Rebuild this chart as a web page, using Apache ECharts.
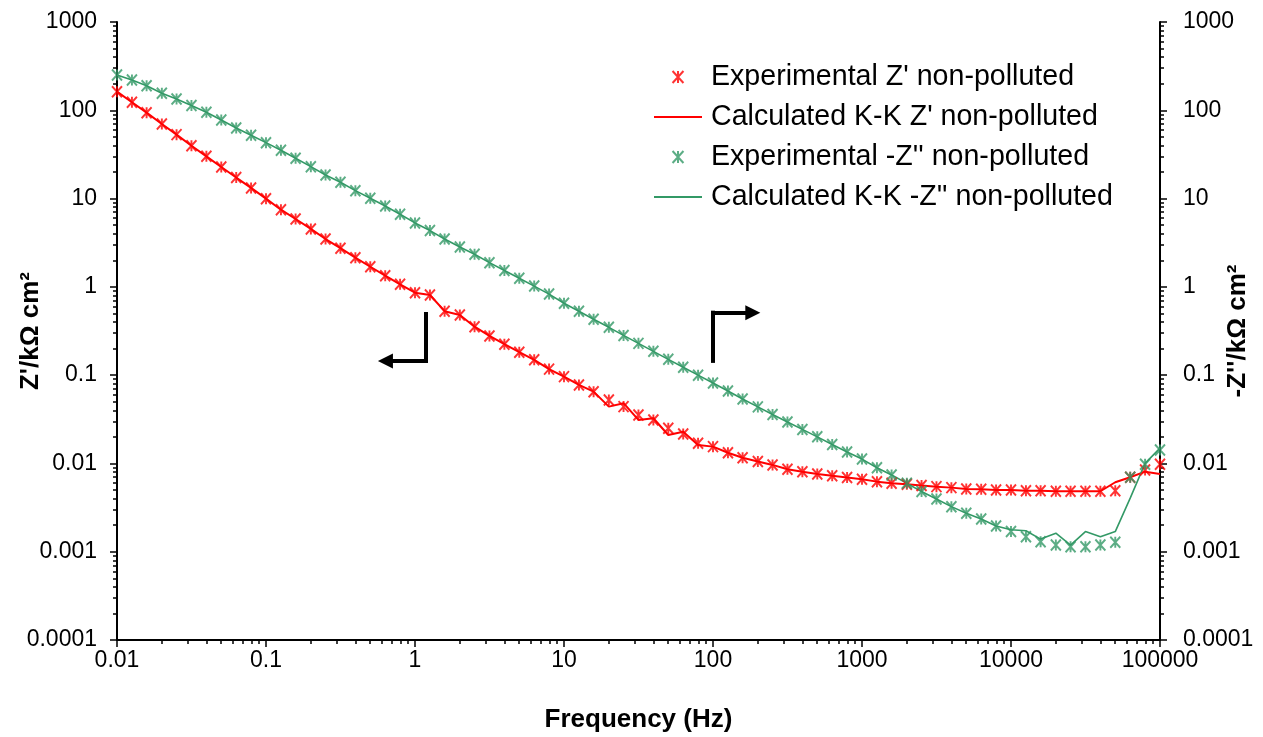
<!DOCTYPE html>
<html><head><meta charset="utf-8">
<script src="https://cdn.jsdelivr.net/npm/echarts@6/dist/echarts.min.js"></script>
<style>html,body{margin:0;padding:0;background:#fff}#c{width:1263px;height:737px}</style>
</head><body><div id="c"></div>
<script>
// ---- data ----
const freq = [
  0.01, 0.0126, 0.0158, 0.02, 0.0251, 0.0316, 0.0398, 0.0501, 0.0631, 0.0794,
  0.1, 0.126, 0.158, 0.2, 0.251, 0.316, 0.398, 0.501, 0.631, 0.794,
  1, 1.26, 1.58, 2, 2.51, 3.16, 3.98, 5.01, 6.31, 7.94,
  10, 12.6, 15.8, 20, 25.1, 31.6, 39.8, 50.1, 63.1, 79.4,
  100, 126, 158, 200, 251, 316, 398, 501, 631, 794,
  1000, 1260, 1580, 2000, 2510, 3160, 3980, 5010, 6310, 7940,
  10000, 12600, 15800, 20000, 25100, 31600, 39800, 50100, 63100, 79400,
  100000
];
const zReExp = [
  162.6, 123.3, 94.0, 70.0, 53.0, 39.7, 30.1, 22.8, 17.3, 13.2,
  9.98, 7.48, 5.87, 4.53, 3.48, 2.74, 2.14, 1.69, 1.34, 1.07,
  0.859, 0.809, 0.53, 0.481, 0.354, 0.278, 0.224, 0.182, 0.149, 0.117,
  0.0962, 0.0774, 0.0650, 0.0524, 0.0440, 0.0354, 0.0311, 0.0251, 0.0216, 0.0169,
  0.0155, 0.0132, 0.0116, 0.0105, 0.00962, 0.00859, 0.00804, 0.00759, 0.00724, 0.00692,
  0.00662, 0.00622, 0.00597, 0.00581, 0.00561, 0.00546, 0.00532, 0.00514, 0.00511, 0.00501,
  0.00501, 0.00489, 0.00489, 0.00484, 0.00484, 0.00484, 0.00484, 0.00489, 0.00698, 0.00843,
  0.00980
];
const zReCalc = [
  162.6, 123.3, 94.0, 70.0, 53.0, 39.7, 30.1, 22.8, 17.3, 13.2,
  9.98, 7.48, 5.87, 4.53, 3.48, 2.74, 2.14, 1.69, 1.34, 1.07,
  0.859, 0.809, 0.53, 0.481, 0.354, 0.278, 0.224, 0.182, 0.149, 0.117,
  0.0962, 0.0774, 0.0650, 0.0440, 0.0481, 0.0311, 0.0325, 0.0210, 0.0229, 0.0162,
  0.0155, 0.0132, 0.0116, 0.0105, 0.00962, 0.00859, 0.00804, 0.00759, 0.00724, 0.00692,
  0.00662, 0.00622, 0.00597, 0.00581, 0.00561, 0.00546, 0.00532, 0.00514, 0.00511, 0.00501,
  0.00501, 0.00489, 0.00489, 0.00484, 0.00484, 0.00484, 0.00484, 0.00612, 0.00698, 0.00807,
  0.00760
];
const zImExp = [
  251, 220, 190, 156, 134, 113, 94.8, 77.6, 63.1, 52.1,
  43.0, 35.2, 28.6, 23.0, 18.5, 15.3, 12.3, 10.1, 8.24, 6.64,
  5.30, 4.34, 3.49, 2.83, 2.34, 1.88, 1.53, 1.25, 1.02, 0.828,
  0.653, 0.530, 0.430, 0.348, 0.282, 0.229, 0.186, 0.151, 0.123, 0.100,
  0.0813, 0.0661, 0.0537, 0.0437, 0.0359, 0.0295, 0.0243, 0.0200, 0.0164, 0.0135,
  0.0112, 0.00895, 0.00741, 0.00597, 0.00480, 0.00396, 0.00324, 0.00273, 0.00235, 0.00196,
  0.00169, 0.00148, 0.00130, 0.00119, 0.00114, 0.00114, 0.00119, 0.00128, 0.00698, 0.00980,
  0.0142
];
const zImCalc = [
  251, 220, 190, 156, 134, 113, 94.8, 77.6, 63.1, 52.1,
  43.0, 35.2, 28.6, 23.0, 18.5, 15.3, 12.3, 10.1, 8.24, 6.64,
  5.30, 4.34, 3.49, 2.83, 2.34, 1.88, 1.53, 1.25, 1.02, 0.828,
  0.653, 0.530, 0.430, 0.348, 0.282, 0.229, 0.186, 0.151, 0.123, 0.100,
  0.0813, 0.0661, 0.0537, 0.0437, 0.0359, 0.0295, 0.0243, 0.0200, 0.0164, 0.0135,
  0.0112, 0.00895, 0.00741, 0.00597, 0.00480, 0.00396, 0.00324, 0.00273, 0.00235, 0.00196,
  0.00177, 0.00173, 0.00139, 0.00162, 0.00119, 0.00169, 0.00148, 0.00169, 0.00404, 0.0100,
  0.0149
];
const seriesNames = [
  "Experimental Z' non-polluted",
  "Calculated K-K Z' non-polluted",
  "Experimental -Z'' non-polluted",
  "Calculated K-K -Z'' non-polluted"
];
const xTickValues = [0.01, 0.1, 1, 10, 100, 1000, 10000, 100000];
const xTickLabels = ['0.01', '0.1', '1', '10', '100', '1000', '10000', '100000'];
const yTickValues = [0.0001, 0.001, 0.01, 0.1, 1, 10, 100, 1000];
const yTickLabels = ['0.0001', '0.001', '0.01', '0.1', '1', '10', '100', '1000'];
// annotation arrows (data coordinates: [frequency, impedance])
const arrowLeftStem = [[1.185, 0.493], [1.185, 0.145]];
const arrowLeftHead = [[1.185, 0.145], [0.633, 0.145]];
const arrowRightStem = [[100, 0.145], [100, 0.510]];
const arrowRightHead = [[100, 0.510], [185, 0.510]];

// ---- helpers ----
function minorTicks(majors) {
  const out = [];
  for (let i = 0; i < majors.length - 1; i++) {
    for (let k = 2; k <= 9; k++) out.push(+(majors[i] * k).toPrecision(4));
  }
  return out;
}
function labelFor(values, labels) {
  return function (v) {
    for (let i = 0; i < values.length; i++) {
      if (Math.abs(Math.log10(values[i]) - Math.log10(v)) < 1e-6) return labels[i];
    }
    return '';
  };
}
const FONT = "'Liberation Sans', Arial, sans-serif";
const RED = '#ff0000';
const GREEN = '#339966';
const STAR = 'path://M0,0 L10,11 M10,0 L0,11 M5,0 L5,11';
const LINE_ICON = 'path://M0,0 L0.01,0 Z M0,5 L48,5 L48,7 L0,7 Z M0,12 L0.01,12 Z';
const zip = (xs, ys) => xs.map((x, i) => [x, ys[i]]);

const axisLineStyle = { color: '#000', width: 2 };
const tickLineStyle = { color: '#000', width: 1.5 };

function yMain(position, name, nameGap, margin) {
  return {
    type: 'log', logBase: 10, min: 0.0001, max: 1000, position,
    name, nameLocation: 'middle', nameGap, nameRotate: 90, nameMoveOverlap: false,
    nameTextStyle: { fontFamily: FONT, fontSize: 26, fontWeight: 'bold', color: '#000' },
    axisLine: { show: true, lineStyle: axisLineStyle },
    axisTick: { show: true, inside: false, length: 7, lineStyle: tickLineStyle, customValues: yTickValues },
    axisLabel: { show: true, fontFamily: FONT, fontSize: 23, color: '#000', margin,
      customValues: yTickValues, formatter: labelFor(yTickValues, yTickLabels) },
    splitLine: { show: false }, minorTick: { show: false }
  };
}
function yMinor(position) {
  return {
    type: 'log', logBase: 10, min: 0.0001, max: 1000, position,
    axisLine: { show: false }, axisLabel: { show: false }, splitLine: { show: false },
    axisTick: { show: true, inside: false, length: 4, lineStyle: tickLineStyle, customValues: minorTicks(yTickValues) }
  };
}

const chart = echarts.init(document.getElementById('c'), null, { renderer: 'canvas' });
chart.setOption({
  animation: false,
  backgroundColor: '#fff',
  grid: { left: 117, right: 103, top: 22, bottom: 97, containLabel: false, outerBoundsMode: 'none' },
  legend: {
    data: [
      { name: seriesNames[0] },
      { name: seriesNames[1], icon: LINE_ICON },
      { name: seriesNames[2] },
      { name: seriesNames[3], icon: LINE_ICON }
    ],
    orient: 'vertical', left: 649, top: 55,
    itemWidth: 48, itemHeight: 12, itemGap: 6,
    textStyle: { fontFamily: FONT, fontSize: 28.6, color: '#000', lineHeight: 34, padding: [0, 0, 0, 4] },
    selectedMode: false
  },
  xAxis: [
    {
      type: 'log', logBase: 10, min: 0.01, max: 100000, position: 'bottom',
      name: 'Frequency (Hz)', nameLocation: 'middle', nameGap: 67, nameMoveOverlap: false,
      nameTextStyle: { fontFamily: FONT, fontSize: 26, fontWeight: 'bold', color: '#000' },
      axisLine: { show: true, lineStyle: axisLineStyle },
      axisTick: { show: true, inside: false, length: 7, lineStyle: tickLineStyle, customValues: xTickValues },
      axisLabel: { show: true, fontFamily: FONT, fontSize: 23, color: '#000', margin: 9,
        customValues: xTickValues, formatter: labelFor(xTickValues, xTickLabels) },
      splitLine: { show: false }, minorTick: { show: false }
    },
    {
      type: 'log', logBase: 10, min: 0.01, max: 100000, position: 'bottom',
      axisLine: { show: false }, axisLabel: { show: false }, splitLine: { show: false },
      axisTick: { show: true, inside: false, length: 4, lineStyle: tickLineStyle, customValues: minorTicks(xTickValues) }
    }
  ],
  yAxis: [
    yMain('left', "Z'/kΩ cm²", 73, 20),
    yMain('right', "-Z''/kΩ cm²", 65, 23),
    yMinor('left'),
    yMinor('right')
  ],
  series: [
    {
      name: seriesNames[1], type: 'line', xAxisIndex: 0, yAxisIndex: 0,
      data: zip(freq, zReCalc), symbol: 'none', showSymbol: false,
      lineStyle: { color: RED, width: 2 }, itemStyle: { color: RED }, z: 2
    },
    {
      name: seriesNames[3], type: 'line', xAxisIndex: 0, yAxisIndex: 1,
      data: zip(freq, zImCalc), symbol: 'none', showSymbol: false,
      lineStyle: { color: GREEN, width: 1.6 }, itemStyle: { color: GREEN }, z: 2
    },
    {
      name: seriesNames[0], type: 'scatter', xAxisIndex: 0, yAxisIndex: 0,
      data: zip(freq, zReExp), symbol: STAR, symbolSize: [10, 11],
      itemStyle: { color: RED, borderColor: RED, borderWidth: 2 }, z: 3
    },
    {
      name: seriesNames[2], type: 'scatter', xAxisIndex: 0, yAxisIndex: 1,
      data: zip(freq, zImExp), symbol: STAR, symbolSize: [10, 11],
      itemStyle: { color: GREEN, borderColor: GREEN, borderWidth: 2 }, z: 3
    },
    {
      type: 'lines', coordinateSystem: 'cartesian2d', xAxisIndex: 0, yAxisIndex: 0, silent: true,
      data: [{ coords: arrowLeftStem }, { coords: arrowRightStem }],
      symbol: ['none', 'none'],
      lineStyle: { color: '#000', width: 4, opacity: 1, cap: 'square', curveness: 0 }, z: 4
    },
    {
      type: 'lines', coordinateSystem: 'cartesian2d', xAxisIndex: 0, yAxisIndex: 0, silent: true,
      data: [{ coords: arrowLeftHead }, { coords: arrowRightHead }],
      symbol: ['none', 'triangle'], symbolSize: 15,
      lineStyle: { color: '#000', width: 4, opacity: 1, cap: 'square', curveness: 0 }, z: 4
    }
  ]
});
</script>
</body></html>
